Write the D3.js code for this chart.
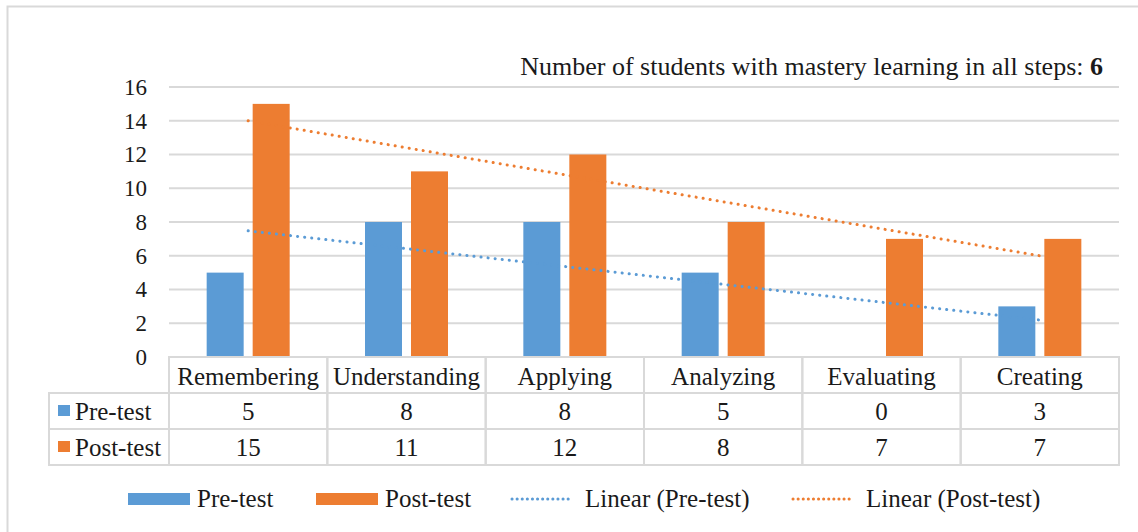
<!DOCTYPE html>
<html>
<head>
<meta charset="utf-8">
<script src="https://cdn.jsdelivr.net/npm/d3@7"></script>
<style>
  body { margin: 0; background: #fff; }
</style>
</head>
<body>
<svg id="chart" width="1138" height="532"></svg>
<script>
(function () {
  "use strict";

  // data
  var categories = ["Remembering", "Understanding", "Applying", "Analyzing", "Evaluating", "Creating"];
  var seriesNames = ["Pre-test", "Post-test"];
  var preTest = [5, 8, 8, 5, 0, 3];
  var postTest = [15, 11, 12, 8, 7, 7];
  var yTicks = [0, 2, 4, 6, 8, 10, 12, 14, 16];
  var masteryCount = 6;

  var colors = ["#5B9BD5", "#ED7D31"];
  var gridColor = "#d9d9d9";
  var textColor = "#1a1a1a";
  var series = [preTest, postTest];

  var svg = d3.select("#chart");

  // serif text helper, inline style so nothing overrides it
  function serif(sel, size) {
    return sel.style("font-family", "'Liberation Serif'")
      .style("font-size", size + "px")
      .style("fill", textColor);
  }

  // outer frame
  svg.append("rect")
      .attr("x", 7.5).attr("y", 6.5)
      .attr("width", 1140).attr("height", 540)
      .attr("fill", "none")
      .attr("stroke", gridColor)
      .attr("stroke-width", 2);

  var left = 169, right = 1119, top = 87, bottom = 357;

  var x = d3.scaleBand().domain(categories).range([left, right]);
  var y = d3.scaleLinear().domain([0, 16]).range([bottom, top]);

  // gridlines
  svg.append("g")
    .selectAll("line")
    .data(yTicks)
    .join("line")
      .attr("x1", left).attr("x2", right)
      .attr("y1", function (d) { return y(d); })
      .attr("y2", function (d) { return y(d); })
      .attr("stroke", gridColor)
      .attr("stroke-width", 2);

  // y axis labels
  var yAxis = svg.append("g")
      .attr("transform", "translate(" + 147 + ",0)")
      .call(d3.axisLeft(y).tickValues(yTicks).tickSize(0).tickPadding(0));
  yAxis.select(".domain").remove();
  serif(yAxis.selectAll("text"), 23);

  // bars
  var barW = 37, gap = 9;
  series.forEach(function (vals, s) {
    svg.append("g")
      .selectAll("rect")
      .data(vals)
      .join("rect")
        .attr("x", function (d, i) {
          return x(categories[i]) + x.bandwidth() / 2 - (barW * 2 + gap) / 2 + s * (barW + gap);
        })
        .attr("width", barW)
        .attr("y", function (d) { return y(d); })
        .attr("height", function (d) { return y(0) - y(d); })
        .attr("fill", colors[s]);
  });

  // linear trendlines (least squares on category index)
  function linearFit(vals) {
    var n = vals.length;
    var mx = d3.mean(vals, function (d, i) { return i; });
    var my = d3.mean(vals);
    var sxy = d3.sum(vals, function (d, i) { return (i - mx) * (d - my); });
    var sxx = d3.sum(vals, function (d, i) { return (i - mx) * (i - mx); });
    var b = sxy / sxx;
    return [[0, my - b * mx], [n - 1, my + b * (n - 1 - mx)]];
  }

  var cx = function (i) { return x(categories[i]) + x.bandwidth() / 2; };
  var line = d3.line()
      .x(function (d) { return cx(d[0]); })
      .y(function (d) { return y(d[1]); });

  series.forEach(function (vals, s) {
    svg.append("path")
        .attr("d", line(linearFit(vals)))
        .attr("fill", "none")
        .attr("stroke", colors[s])
        .attr("stroke-width", 3)
        .attr("stroke-linecap", "round")
        .attr("stroke-dasharray", "0.1 7");
  });

  // title / annotation
  var title = serif(svg.append("text"), 26)
      .attr("x", 1103).attr("y", 75)
      .attr("text-anchor", "end");
  title.append("tspan").text("Number of students with mastery learning in all steps: ");
  title.append("tspan").style("font-weight", "bold").text(masteryCount);

  // data table
  var rowH = 36;
  var tableTop = bottom, tableLeft = 49;
  var table = svg.append("g");

  table.selectAll("rect.head")
    .data(categories)
    .join("rect")
      .attr("class", "head")
      .attr("x", function (d) { return x(d); })
      .attr("y", tableTop)
      .attr("width", x.bandwidth())
      .attr("height", rowH)
      .attr("fill", "none")
      .attr("stroke", gridColor)
      .attr("stroke-width", 2);

  serif(table.selectAll("text.head")
    .data(categories)
    .join("text"), 25)
      .attr("class", "head")
      .attr("x", function (d) { return x(d) + x.bandwidth() / 2; })
      .attr("y", tableTop + 28)
      .attr("text-anchor", "middle")
      .text(function (d) { return d; });

  series.forEach(function (vals, s) {
    var ry = tableTop + rowH * (s + 1);
    var row = table.append("g");
    row.append("rect")
        .attr("x", tableLeft).attr("y", ry)
        .attr("width", left - tableLeft).attr("height", rowH)
        .attr("fill", "none").attr("stroke", gridColor).attr("stroke-width", 2);
    row.append("rect")
        .attr("x", tableLeft + 9).attr("y", ry + 12)
        .attr("width", 12).attr("height", 11)
        .attr("fill", colors[s]);
    serif(row.append("text"), 25)
        .attr("x", tableLeft + 26).attr("y", ry + 27)
        .text(seriesNames[s]);
    row.selectAll("rect.cell")
      .data(vals)
      .join("rect")
        .attr("class", "cell")
        .attr("x", function (d, i) { return x(categories[i]); })
        .attr("y", ry)
        .attr("width", x.bandwidth()).attr("height", rowH)
        .attr("fill", "none").attr("stroke", gridColor).attr("stroke-width", 2);
    serif(row.selectAll("text.cell")
      .data(vals)
      .join("text"), 25)
        .attr("class", "cell")
        .attr("x", function (d, i) { return cx(i); })
        .attr("y", ry + 27)
        .attr("text-anchor", "middle")
        .text(function (d) { return d; });
  });

  // legend
  var legendItems = [
    { label: "Pre-test", kind: "bar", color: colors[0], x: 128 },
    { label: "Post-test", kind: "bar", color: colors[1], x: 316 },
    { label: "Linear (Pre-test)", kind: "line", color: colors[0], x: 511 },
    { label: "Linear (Post-test)", kind: "line", color: colors[1], x: 792 }
  ];
  var ly = 499;
  var lg = svg.append("g")
    .selectAll("g")
    .data(legendItems)
    .join("g")
      .attr("transform", function (d) { return "translate(" + d.x + "," + ly + ")"; });

  lg.filter(function (d) { return d.kind === "bar"; })
    .append("rect")
      .attr("x", 0).attr("y", -6)
      .attr("width", 62).attr("height", 12)
      .attr("fill", function (d) { return d.color; });

  lg.filter(function (d) { return d.kind === "line"; })
    .append("line")
      .attr("x1", 1).attr("x2", 62)
      .attr("stroke", function (d) { return d.color; })
      .attr("stroke-width", 3)
      .attr("stroke-linecap", "round")
      .attr("stroke-dasharray", "0.1 5");

  serif(lg.append("text"), 25)
      .attr("x", function (d) { return d.kind === "bar" ? 69 : 74; })
      .attr("y", 8)
      .text(function (d) { return d.label; });
}());
</script>
</body>
</html>
